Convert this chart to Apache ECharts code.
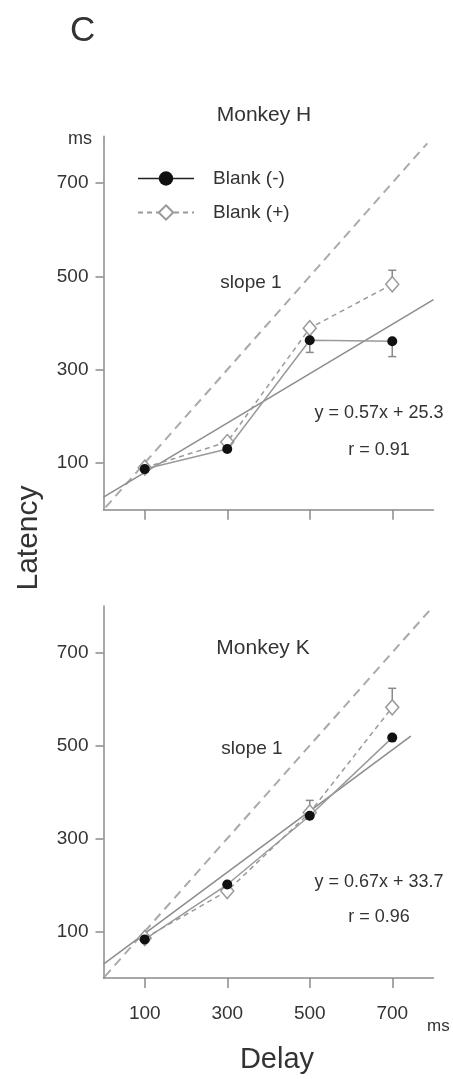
<!DOCTYPE html>
<html><head><meta charset="utf-8">
<script src="https://cdn.jsdelivr.net/npm/echarts@6/dist/echarts.min.js"></script>
<style>html,body{margin:0;padding:0;background:#fff}#c{width:453px;height:1079px}</style>
</head><body><div id="c"></div>
<script>
// ---- data ----
const delays = [100, 300, 500, 700];
const tickValues = [100, 300, 500, 700];
// Monkey H
const hBlankMinus = [87, 130, 363, 361];
const hBlankPlus = [90, 145, 389, 483];
const hErrMinusEnd = [null, null, 337, 328];
const hErrPlusEnd = [null, null, null, 513];
const hFitX = [0, 800];
const hFitY = [27, 450];
const hSlopeX = [5, 785];
const hSlopeY = [5, 785];
// Monkey K
const kBlankMinus = [83, 201, 349, 517];
const kBlankPlus = [86, 187, 356, 582];
const kErrMinusEnd = [null, null, 382, null];
const kErrPlusEnd = [null, null, null, 623];
const kFitX = [0, 745];
const kFitY = [30, 520];
const kSlopeX = [3, 790];
const kSlopeY = [3, 790];

const FF = "'Liberation Sans', Arial, Helvetica, sans-serif";
const AX = '#8a8a8a';

const pairs = (xs, ys) => xs.map((x, i) => [x, ys[i]]);
const errData = (vals, ends) => delays.map((d, i) => ends[i] == null ? null : [d, vals[i], ends[i]]).filter(Boolean);

function errRender(params, api) {
  const x = api.value(0), y0 = api.value(1), y1 = api.value(2);
  const p0 = api.coord([x, y0]), p1 = api.coord([x, y1]);
  const w = 4;
  const st = { stroke: '#8a8a8a', lineWidth: 1.5 };
  return { type: 'group', children: [
    { type: 'line', shape: { x1: p0[0], y1: p0[1], x2: p1[0], y2: p1[1] }, style: st },
    { type: 'line', shape: { x1: p1[0] - w, y1: p1[1], x2: p1[0] + w, y2: p1[1] }, style: st }
  ]};
}

function xAxisCfg(idx, showLabels) {
  return {
    type: 'value', gridIndex: idx, min: 0, max: 800,
    axisLine: { show: true, lineStyle: { color: AX, width: 1.5 } },
    axisTick: { show: true, length: 10, lineStyle: { color: AX, width: 1.5 }, customValues: tickValues },
    axisLabel: { show: showLabels, customValues: tickValues, margin: 26, fontSize: 19, color: '#333', fontFamily: FF },
    splitLine: { show: false }
  };
}
function yAxisCfg(idx) {
  return {
    type: 'value', gridIndex: idx, min: 0, max: 800,
    axisLine: { show: true, lineStyle: { color: AX, width: 1.5 } },
    axisTick: { show: true, length: 8, lineStyle: { color: AX, width: 1.5 }, customValues: tickValues },
    axisLabel: { show: true, customValues: tickValues, margin: 15, fontSize: 19, color: '#333', fontFamily: FF },
    splitLine: { show: false }
  };
}

function panelSeries(idx, minus, plus, errM, errP, fitX, fitY, slX, slY) {
  return [
    { type: 'line', name: 'slope1_' + idx, xAxisIndex: idx, yAxisIndex: idx, data: pairs(slX, slY),
      symbol: 'none', lineStyle: { color: '#aaaaaa', width: 2, type: [9, 6] }, z: 1, silent: true },
    { type: 'line', name: 'fit_' + idx, xAxisIndex: idx, yAxisIndex: idx, data: pairs(fitX, fitY),
      symbol: 'none', lineStyle: { color: '#8c8c8c', width: 1.5 }, z: 2, silent: true },
    { type: 'custom', name: 'errP_' + idx, xAxisIndex: idx, yAxisIndex: idx, data: errData(plus, errP),
      renderItem: errRender, encode: { x: 0, y: [1, 2] }, z: 3, silent: true },
    { type: 'custom', name: 'errM_' + idx, xAxisIndex: idx, yAxisIndex: idx, data: errData(minus, errM),
      renderItem: errRender, encode: { x: 0, y: [1, 2] }, z: 3, silent: true },
    { type: 'line', name: 'Blank (+)', xAxisIndex: idx, yAxisIndex: idx, data: pairs(delays, plus),
      symbol: 'diamond', symbolSize: [13, 15], showAllSymbol: true,
      itemStyle: { color: '#ffffff', borderColor: '#999999', borderWidth: 1.5 },
      lineStyle: { color: '#9a9a9a', width: 1.5, type: [5, 4] }, z: 4, silent: true },
    { type: 'line', name: 'Blank (-)', xAxisIndex: idx, yAxisIndex: idx, data: pairs(delays, minus),
      symbol: 'circle', symbolSize: 10, showAllSymbol: true,
      itemStyle: { color: '#111111' },
      lineStyle: { color: '#9a9a9a', width: 1.5 }, z: 5, silent: true }
  ];
}

const txt = (x, y, text, size, align, extra) => Object.assign({
  type: 'text', x: x, y: y,
  style: { text: text, fontSize: size, fontFamily: FF, fill: '#333', align: align || 'center', verticalAlign: 'middle' }
}, extra || {});

const chart = echarts.init(document.getElementById('c'), null, { renderer: 'canvas' });
chart.setOption({
  animation: false,
  backgroundColor: '#ffffff',
  grid: [
    { left: 103.5, right: 19.5, top: 136.3, bottom: 569.3 },
    { left: 103.5, right: 19.5, top: 606, bottom: 101 }
  ],
  xAxis: [xAxisCfg(0, false), xAxisCfg(1, true)],
  yAxis: [yAxisCfg(0), yAxisCfg(1)],
  legend: {
    orient: 'vertical', left: 132, top: 164, itemWidth: 56, itemHeight: 18, itemGap: 15,
    textStyle: { fontSize: 19, color: '#333', fontFamily: FF, padding: [0, 0, 0, 14] },
    selectedMode: false,
    data: [
      { name: 'Blank (-)', lineStyle: { color: '#222222', width: 1.5 }, itemStyle: { color: '#111111' } },
      { name: 'Blank (+)' }
    ]
  },
  graphic: [
    txt(70, 31, 'C', 35, 'left'),
    txt(264, 115, 'Monkey H', 21),
    txt(263, 648, 'Monkey K', 21),
    txt(92, 139, 'ms', 18, 'right'),
    txt(427, 1026, 'ms', 17, 'left'),
    txt(251, 283, 'slope 1', 19),
    txt(252, 749, 'slope 1', 19),
    txt(379, 413, 'y = 0.57x + 25.3', 18),
    txt(379, 450, 'r = 0.91', 18),
    txt(379, 882, 'y = 0.67x + 33.7', 18),
    txt(379, 917, 'r = 0.96', 18),
    txt(277, 1060, 'Delay', 29),
    txt(29, 538, 'Latency', 30, 'center', { rotation: Math.PI / 2 })
  ],
  series: [].concat(
    panelSeries(0, hBlankMinus, hBlankPlus, hErrMinusEnd, hErrPlusEnd, hFitX, hFitY, hSlopeX, hSlopeY),
    panelSeries(1, kBlankMinus, kBlankPlus, kErrMinusEnd, kErrPlusEnd, kFitX, kFitY, kSlopeX, kSlopeY)
  )
});
</script>
</body></html>
